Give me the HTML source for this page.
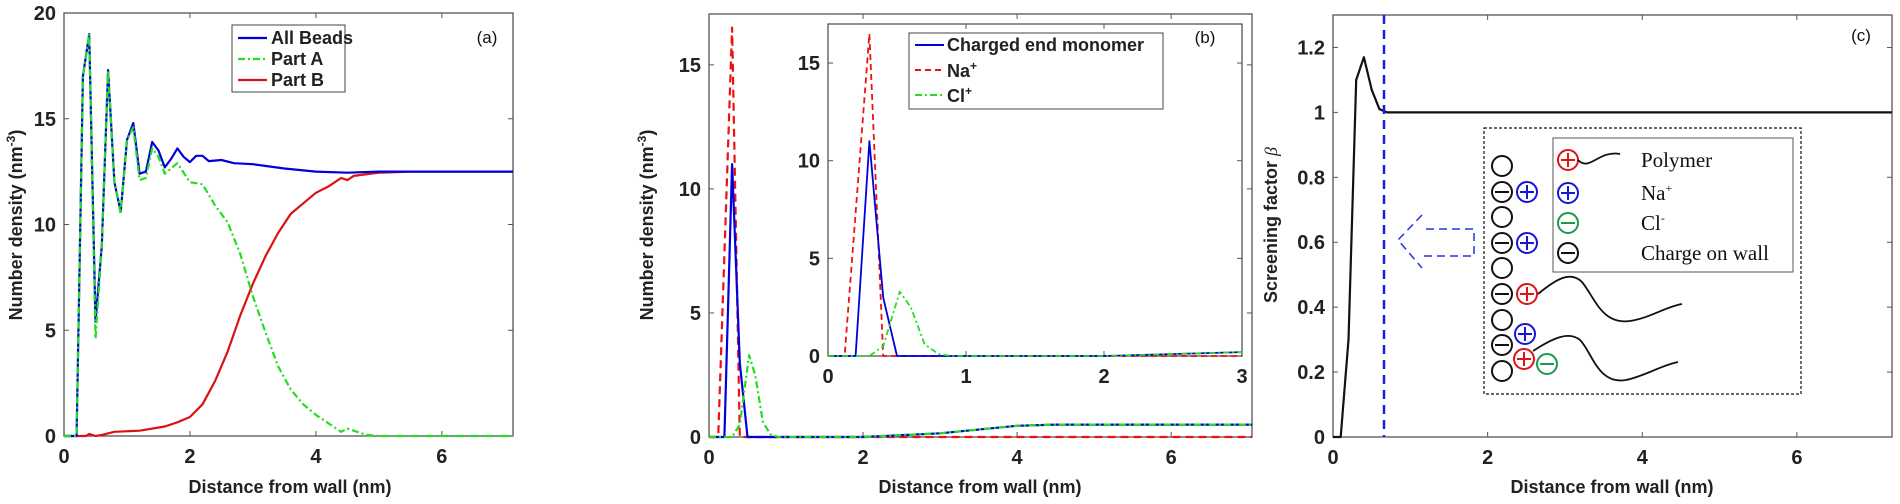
<!DOCTYPE html>
<html><head><meta charset="utf-8"><style>
html,body{margin:0;padding:0;background:#fff}
svg{display:block}
.t{font-family:"Liberation Sans",sans-serif;font-weight:bold;font-size:18px;fill:#222}
.k{font-family:"Liberation Sans",sans-serif;font-weight:bold;font-size:20px;fill:#222}
.s{font-family:"Liberation Serif",serif;font-size:21px;fill:#111}
</style></head><body>
<svg id="c" width="1900" height="504" viewBox="0 0 1900 504" xmlns="http://www.w3.org/2000/svg">
<g id="g"></g>
<text class="t" x="290" y="493" text-anchor="middle">Distance from wall (nm)</text>
<text class="t" transform="translate(22,225) rotate(-90)" text-anchor="middle">Number density (nm<tspan dy="-7" font-size="12">-3</tspan><tspan dy="7">)</tspan></text>
<text class="t" x="980" y="493" text-anchor="middle">Distance from wall (nm)</text>
<text class="t" transform="translate(653,225) rotate(-90)" text-anchor="middle">Number density (nm<tspan dy="-7" font-size="12">-3</tspan><tspan dy="7">)</tspan></text>
<text class="t" x="1612" y="493" text-anchor="middle">Distance from wall (nm)</text>
<text class="t" transform="translate(1277,225) rotate(-90)" text-anchor="middle">Screening factor <tspan font-family="Liberation Serif" font-style="italic" font-weight="normal">β</tspan></text>
<text x="487" y="43" font-family="Liberation Sans" font-size="17" fill="#111" text-anchor="middle">(a)</text>
<text x="1205" y="43" font-family="Liberation Sans" font-size="17" fill="#111" text-anchor="middle">(b)</text>
<text x="1861" y="41" font-family="Liberation Sans" font-size="17" fill="#111" text-anchor="middle">(c)</text>
<rect x="232" y="25" width="113" height="67" fill="#fff" stroke="#444" stroke-width="1"/>
<line x1="238" y1="38" x2="267" y2="38" stroke="#0000dd" stroke-width="2.2"/>
<line x1="238" y1="59" x2="267" y2="59" stroke="#22dd22" stroke-width="2.2" stroke-dasharray="7,3,2,3"/>
<line x1="238" y1="80" x2="267" y2="80" stroke="#dd1111" stroke-width="2.2"/>
<text class="t" x="271" y="44">All Beads</text>
<text class="t" x="271" y="65">Part A</text>
<text class="t" x="271" y="86">Part B</text>
<rect x="909" y="33" width="254" height="76" fill="#fff" stroke="#444"/>
<line x1="915" y1="45" x2="944" y2="45" stroke="#0000dd" stroke-width="2"/>
<line x1="915" y1="70" x2="944" y2="70" stroke="#ee1111" stroke-width="2" stroke-dasharray="6,4"/>
<line x1="915" y1="95" x2="944" y2="95" stroke="#22dd22" stroke-width="2" stroke-dasharray="7,3,2,3"/>
<text class="t" x="947" y="51">Charged end monomer</text>
<text class="t" x="947" y="77">Na<tspan dy="-7" font-size="12">+</tspan></text>
<text class="t" x="947" y="102">Cl<tspan dy="-7" font-size="12">+</tspan></text>
<line x1="1384" y1="15" x2="1384" y2="437" stroke="#1a1aee" stroke-width="2.5" stroke-dasharray="9,6"/>
<path d="M1422,215 L1398,240 L1422,268 M1424,256 L1474,256 L1474,229 L1424,229" fill="none" stroke="#2233dd" stroke-width="1.5" stroke-dasharray="8,5"/>
<rect x="1484" y="128" width="317" height="266" fill="none" stroke="#111" stroke-width="1.2" stroke-dasharray="3,2"/>
<rect x="1553" y="138" width="240" height="134" fill="#fff" stroke="#555"/>
<g id="sch" fill="none" stroke-width="2"></g>
<path d="M1578,160 C1590,172 1598,150 1620,154" fill="none" stroke="#111" stroke-width="1.8"/>
<path d="M1538,294 C1555,280 1570,270 1582,282 C1595,298 1602,325 1630,321 C1650,318 1665,307 1682,304" fill="none" stroke="#111" stroke-width="1.8"/>
<path d="M1533,351 C1550,340 1568,330 1580,340 C1592,352 1598,385 1626,380 C1645,376 1662,365 1678,362" fill="none" stroke="#111" stroke-width="1.8"/>
<text class="s" x="1641" y="167">Polymer</text>
<text class="s" x="1641" y="200">Na<tspan dy="-8" font-size="12">+</tspan></text>
<text class="s" x="1641" y="230">Cl<tspan dy="-8" font-size="12">-</tspan></text>
<text class="s" x="1641" y="260">Charge on wall</text>
</svg>
<script>
var NS="http://www.w3.org/2000/svg",g=document.getElementById('g');
function el(t,a,p){var e=document.createElementNS(NS,t);for(var k in a)e.setAttribute(k,a[k]);(p||g).appendChild(e);return e;}
function txt(x,y,s,anc){var e=el('text',{x:x,y:y,'class':'k','text-anchor':anc||'middle'});e.textContent=s;}
function axes(L,T,R,B,xmin,xmax,ymin,ymax,xt,yt,xl,yl){
 var sx=function(v){return L+(v-xmin)/(xmax-xmin)*(R-L)},sy=function(v){return B-(v-ymin)/(ymax-ymin)*(B-T)};
 el('rect',{x:L,y:T,width:R-L,height:B-T,fill:'#fff',stroke:'#555','stroke-width':1.3});
 xt.forEach(function(v,i){var x=sx(v);el('line',{x1:x,y1:B,x2:x,y2:B-5,stroke:'#555'});el('line',{x1:x,y1:T,x2:x,y2:T+5,stroke:'#555'});txt(x,B+27,xl[i]);});
 yt.forEach(function(v,i){var y=sy(v);el('line',{x1:L,y1:y,x2:L+5,y2:y,stroke:'#555'});el('line',{x1:R,y1:y,x2:R-5,y2:y,stroke:'#555'});txt(L-8,y+7,yl[i],'end');});
 return [sx,sy,xmax];}
function line(f,pts,col,da,w){pts=pts.filter(function(p){return p[0]<=f[2]+1e-9});
 var d=pts.map(function(p,i){return (i?'L':'M')+f[0](p[0]).toFixed(1)+','+f[1](p[1]).toFixed(1)}).join(' ');
 var a={d:d,fill:'none',stroke:col,'stroke-width':w||2.2,'stroke-linejoin':'round'};if(da)a['stroke-dasharray']=da;el('path',a);}
var A=axes(64,13,513,436,0,7.13,0,20,[0,2,4,6],[0,5,10,15,20],['0','2','4','6'],['0','5','10','15','20']);
var blue=[[0,0],[0.2,0],[0.3,17],[0.4,19],[0.5,5.4],[0.6,9],[0.7,17.3],[0.8,12],[0.9,10.6],[1,14],[1.1,14.8],[1.2,12.4],[1.3,12.5],[1.4,13.9],[1.5,13.5],[1.6,12.7],[1.7,13.1],[1.8,13.6],[1.9,13.2],[2,12.95],[2.1,13.25],[2.2,13.25],[2.3,13],[2.5,13.05],[2.7,12.9],[3,12.85],[3.5,12.65],[4,12.5],[4.5,12.45],[5,12.5],[7.13,12.5]];
var grn=[[0,0],[0.2,0],[0.3,17],[0.4,19],[0.5,4.6],[0.6,9],[0.7,17.3],[0.8,12],[0.9,10.5],[1,14],[1.1,14.6],[1.2,12.1],[1.3,12.2],[1.4,13.6],[1.5,13.2],[1.6,12.4],[1.8,12.9],[2,12],[2.2,11.9],[2.4,10.9],[2.6,10.1],[2.8,8.6],[3,6.6],[3.2,4.9],[3.4,3.3],[3.6,2.2],[3.8,1.5],[4,1],[4.2,0.6],[4.4,0.2],[4.5,0.35],[4.8,0.05],[5,0],[7.13,0]];
var red=[[0,0],[0.35,0],[0.4,0.1],[0.5,0],[0.6,0.05],[0.8,0.2],[1.2,0.25],[1.6,0.45],[1.8,0.65],[2,0.9],[2.2,1.5],[2.4,2.6],[2.6,4],[2.8,5.7],[3,7.2],[3.2,8.5],[3.4,9.6],[3.6,10.5],[3.8,11],[4,11.5],[4.2,11.8],[4.4,12.2],[4.5,12.1],[4.6,12.3],[5,12.45],[5.5,12.5],[7.13,12.5]];
line(A,red,'#dd1111');line(A,blue,'#0000dd');line(A,grn,'#22dd22','7,3,2,3');
var Bm=axes(709,14,1252,437,0,7.05,0,17.05,[0,2,4,6],[0,5,10,15],['0','2','4','6'],['0','5','10','15']);
var na=[[0,0],[0.12,0],[0.3,16.5],[0.4,0],[7.05,0]];
var bl=[[0,0],[0.2,0],[0.3,11],[0.4,3],[0.5,0],[2,0],[3,0.15],[4,0.45],[4.5,0.5],[7.05,0.5]];
var cl=[[0,0],[0.3,0],[0.4,0.5],[0.52,3.3],[0.6,2.5],[0.7,0.6],[0.8,0.1],[0.9,0],[2,0],[3,0.15],[4,0.45],[4.5,0.5],[7.05,0.5]];
line(Bm,na,'#ee1111','8,5');line(Bm,bl,'#0000dd');line(Bm,cl,'#22dd22','7,3,2,3');
var I=axes(828,24,1242,356,0,3,0,17,[0,1,2,3],[0,5,10,15],['0','1','2','3'],['0','5','10','15']);
line(I,[[0,0],[0.12,0],[0.3,16.5],[0.4,0],[3,0]],'#ee1111','6,4',1.8);line(I,[[0,0],[0.2,0],[0.3,11],[0.4,3],[0.5,0],[2,0],[3,0.2]],'#0000dd',null,1.8);line(I,[[0,0],[0.3,0],[0.4,0.5],[0.52,3.3],[0.6,2.5],[0.7,0.6],[0.8,0.1],[0.9,0],[2,0],[3,0.2]],'#22dd22','6,3,2,3',1.8);
var C=axes(1333,15,1892,437,0,7.23,0,1.3,[0,2,4,6],[0,0.2,0.4,0.6,0.8,1,1.2],['0','2','4','6'],['0','0.2','0.4','0.6','0.8','1','1.2']);
line(C,[[0,0],[0.1,0],[0.2,0.3],[0.3,1.1],[0.4,1.17],[0.5,1.07],[0.6,1.01],[0.7,1.0],[7.23,1.0]],'#111');
var s=document.getElementById('sch');
function circ(x,y,col,sym){el('circle',{cx:x,cy:y,r:10,stroke:col},s);
 el('line',{x1:x-7,y1:y,x2:x+7,y2:y,stroke:col},s);if(sym=='+')el('line',{x1:x,y1:y-7,x2:x,y2:y+7,stroke:col},s);}
[166,192,217,243,268,294,320,345,371].forEach(function(y,i){if(i%2)circ(1502,y,'#111','-');else el('circle',{cx:1502,cy:y,r:10,stroke:'#111'},s);});
circ(1527,192,'#1515dd','+');circ(1527,243,'#1515dd','+');circ(1525,334,'#1515dd','+');
circ(1527,294,'#dd1515','+');circ(1524,359,'#dd1515','+');circ(1547,364,'#1a9a4a','-');
circ(1568,160,'#dd1515','+');circ(1568,193,'#1515dd','+');circ(1568,223,'#1a9a4a','-');circ(1568,253,'#111','-');
</script>
</body></html>
